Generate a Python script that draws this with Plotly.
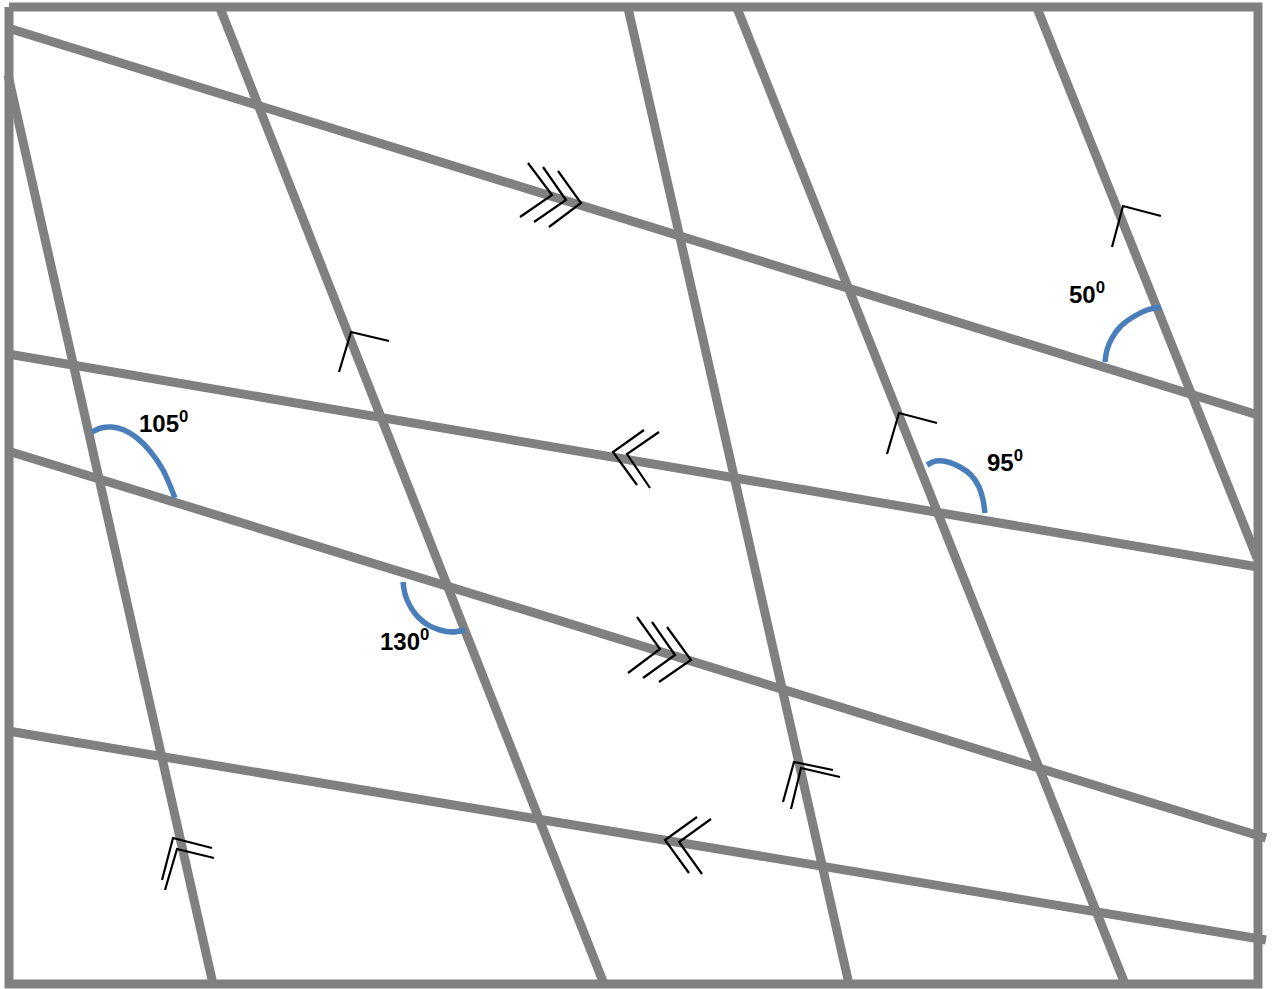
import plotly.graph_objects as go

# ---------------- data (pixel coordinates of the diagram) ----------------
# outer frame
frame_x = [9, 1258, 1258, 9, 9]
frame_y = [7, 7, 984, 984, 7]

# near-horizontal transversal lines (start -> end)
hline_x = [[8, 1258], [8, 1258], [8, 1266], [8, 1266]]
hline_y = [[28, 415], [354, 567], [451, 838], [731, 940]]

# near-vertical lines (top -> bottom)
vline_x = [[8, 213], [220, 604], [628, 849], [737, 1125], [1037, 1257]]
vline_y = [[75, 984], [8, 984], [8, 984], [8, 984], [8, 558]]

# parallel markers (each a polyline)
marks_x = [
    [528, 552, 520], [543, 566, 534], [558, 581, 549],   # triple on line 1
    [637, 660, 628], [652, 675, 643], [667, 691, 659],   # triple on line 3
    [644, 613, 637], [659, 627, 650],                    # double on line 2
    [697, 665, 689], [711, 679, 702],                    # double on line 4
    [389, 351, 339],                                     # single on line B
    [1161, 1123, 1112],                                  # single on line E
    [937, 899, 887],                                     # single on line D
    [212, 173, 162], [214, 177, 165],                    # double on line A
    [833, 794, 783], [840, 801, 791],                    # double on line C
]
marks_y = [
    [163, 195, 217], [167, 200, 222], [171, 203, 227],
    [617, 649, 673], [622, 655, 678], [627, 660, 682],
    [430, 452, 485], [432, 454, 488],
    [817, 840, 873], [819, 842, 874],
    [341, 332, 372],
    [216, 206, 247],
    [423, 413, 454],
    [848, 838, 880], [858, 849, 890],
    [770, 762, 802], [777, 768, 809],
]

# angle arcs
arc_x = [
    [1105, 1107, 1112, 1120, 1133, 1147, 1161],
    [92, 101, 112, 124, 137, 150, 163, 175],
    [403, 405, 410, 418, 428, 440, 452, 465],
    [927, 936, 948, 960, 971, 979, 983, 985],
]
arc_y = [
    [362, 350, 338, 327, 317, 310, 307],
    [432, 428, 427, 430, 438, 451, 470, 498],
    [582, 594, 606, 617, 625, 630, 632, 630],
    [465, 461, 462, 467, 475, 487, 500, 513],
]

# angle labels
label_text = ["50", "105", "130", "95"]
label_x = [1087, 163, 404, 1005]
label_y = [293, 422, 640, 461]

GRAY = "#808080"
BLUE = "#4a7ebb"

fig = go.Figure()


def joined(xs_list, ys_list):
    X, Y = [], []
    for xs, ys in zip(xs_list, ys_list):
        X += list(xs) + [None]
        Y += list(ys) + [None]
    return X, Y


hx, hy = joined(hline_x, hline_y)
vx, vy = joined(vline_x, vline_y)
fig.add_trace(go.Scatter(x=hx + vx, y=hy + vy, mode="lines",
                         line=dict(color=GRAY, width=9), hoverinfo="skip"))
fig.add_trace(go.Scatter(x=frame_x, y=frame_y, mode="lines",
                         line=dict(color=GRAY, width=9), hoverinfo="skip"))

mx, my = joined(marks_x, marks_y)
fig.add_trace(go.Scatter(x=mx, y=my, mode="lines",
                         line=dict(color="black", width=2.2), hoverinfo="skip"))

for ax_, ay_ in zip(arc_x, arc_y):
    fig.add_trace(go.Scatter(x=ax_, y=ay_, mode="lines",
                             line=dict(color=BLUE, width=5.5, shape="spline",
                                       smoothing=0.8),
                             hoverinfo="skip"))

for t, x, y in zip(label_text, label_x, label_y):
    fig.add_annotation(x=x, y=y, text=f"<b>{t}<sup>0</sup></b>", showarrow=False,
                       xref="x", yref="y", xanchor="center", yanchor="middle",
                       font=dict(family="Liberation Sans, Arial, sans-serif",
                                 size=24, color="black"))

fig.update_layout(
    width=1274, height=989, autosize=False,
    margin=dict(l=0, r=0, t=0, b=0),
    paper_bgcolor="white", plot_bgcolor="white",
    showlegend=False,
    xaxis=dict(range=[0, 1274], visible=False, fixedrange=True),
    yaxis=dict(range=[989, 0], visible=False, fixedrange=True),
)

fig.write_html("out.html", config={"displayModeBar": False},
               post_script="document.body.style.margin='0';")
